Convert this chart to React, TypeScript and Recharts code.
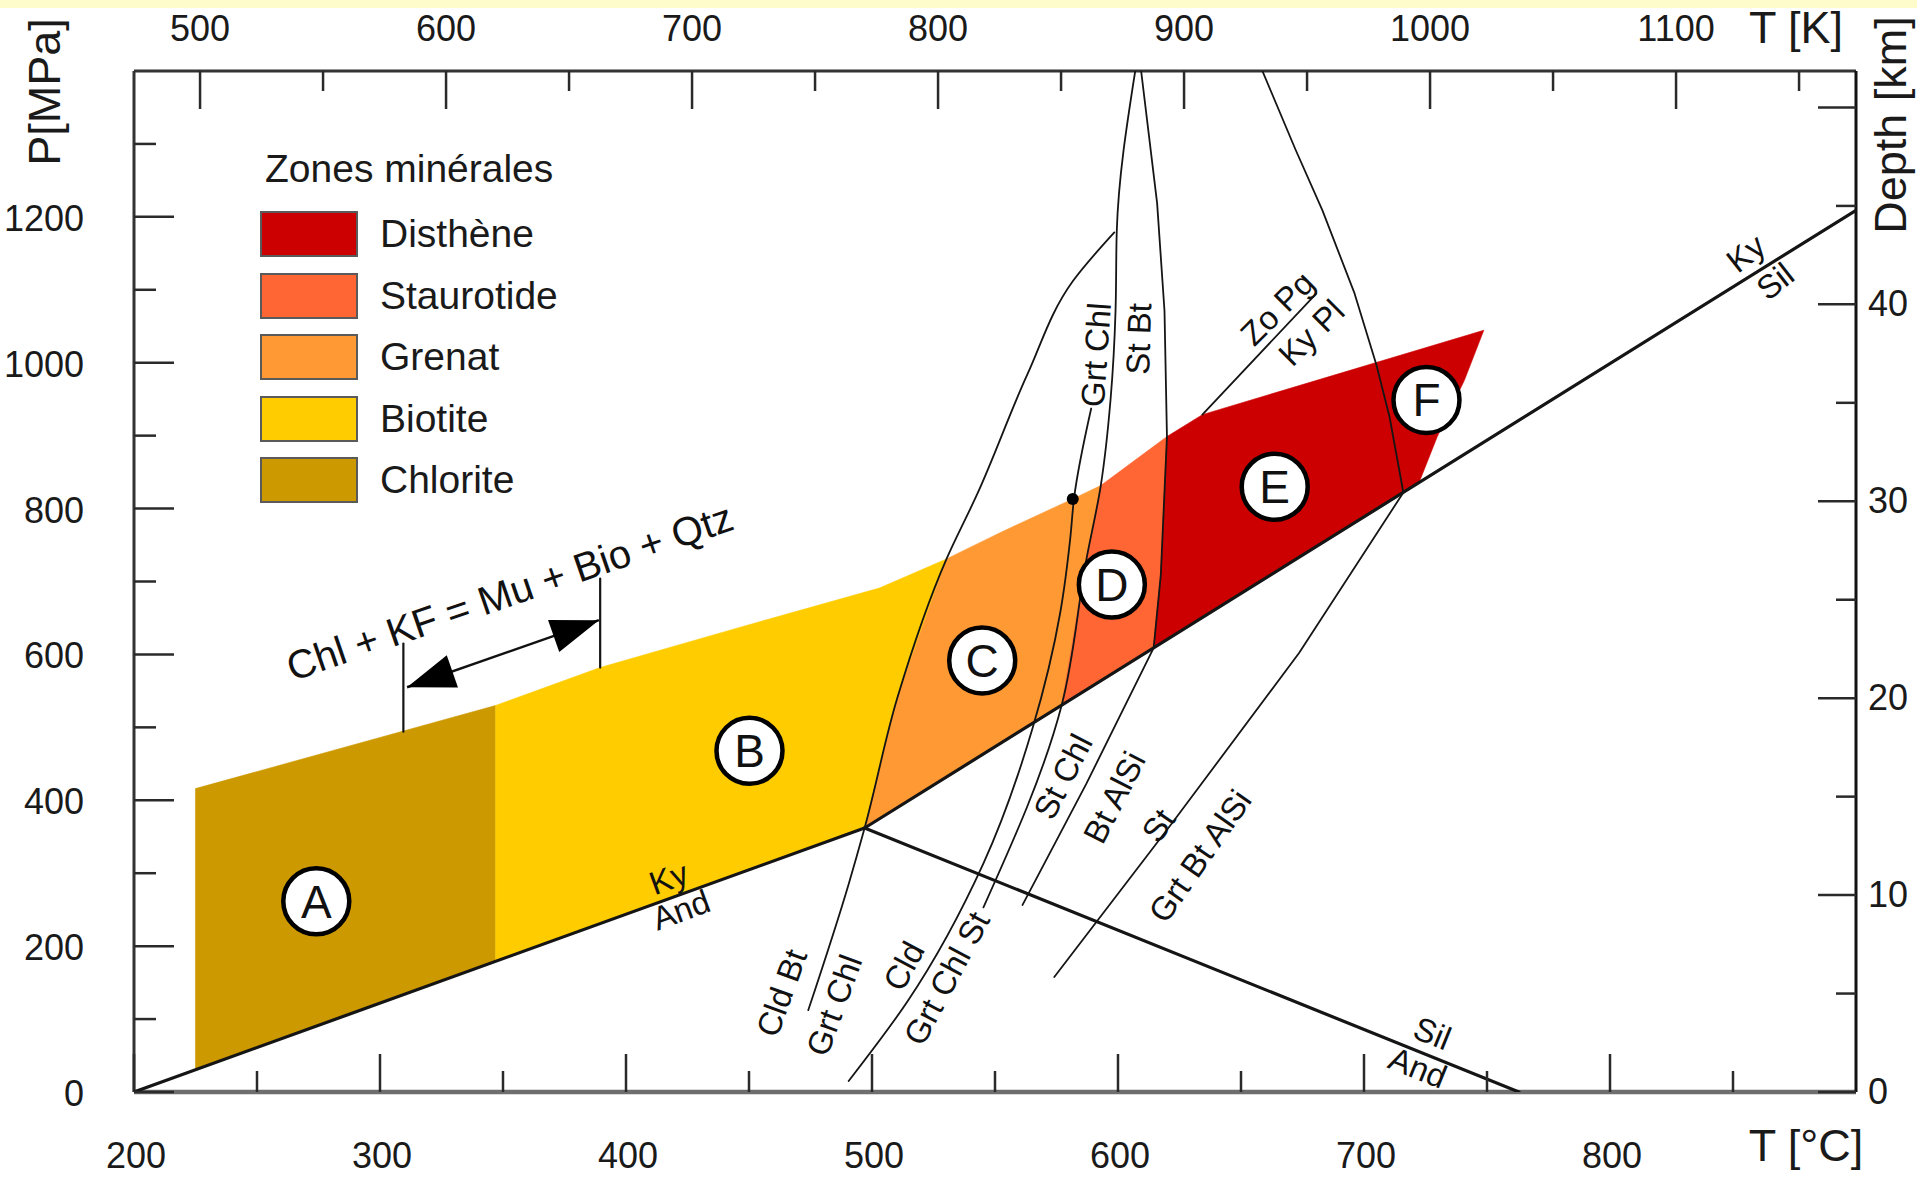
import React from 'react';
import { ScatterChart, Scatter, XAxis, YAxis, Legend, Curve } from 'recharts';

const FONT = '"Liberation Sans", Arial, Helvetica, sans-serif';

// ---------- axes ----------
const celsiusTicks = [200, 250, 300, 350, 400, 450, 500, 550, 600, 650, 700, 750, 800, 850];
const celsiusLabels = [200, 300, 400, 500, 600, 700, 800];
const kelvinTicks = [500, 550, 600, 650, 700, 750, 800, 850, 900, 950, 1000, 1050, 1100, 1150];
const kelvinLabels = [500, 600, 700, 800, 900, 1000, 1100];
const pressureTicks = [0, 100, 200, 300, 400, 500, 600, 700, 800, 900, 1000, 1100, 1200, 1300];
const pressureLabels = [0, 200, 400, 600, 800, 1000, 1200];
const depthTicks = [0, 5, 10, 15, 20, 25, 30, 35, 40, 45, 50];
const depthLabels = [0, 10, 20, 30, 40];
const MPA_PER_KM = 27;
const T_MIN = 200, T_MAX = 900, P_MAX = 1400;

// ---------- legend ----------
const zoneNames = ['Disthène', 'Staurotide', 'Grenat', 'Biotite', 'Chlorite'];
const zoneColors = ['#CC0000', '#FF6633', '#FF9933', '#FFCC00', '#CC9900'];

// ---------- zones [T °C, P MPa] ----------
const chloriteZone = [[225, 31], [225, 416], [347, 530], [347, 179]];
const biotiteZone = [[347, 179], [347, 530], [389.5, 582], [443, 634], [503, 691], [530.3, 731], [510.4, 541.5], [497, 362]];
const grenatZone = [[497, 362], [510.4, 541.5], [530.3, 731], [552.7, 768], [581.6, 813.2], [593, 831.6], [587.1, 729.3], [577.1, 530.4]];
const staurotideZone = [[577.1, 530.4], [587.1, 729.3], [593, 831.6], [619.9, 898.7], [617.4, 709.2], [614.5, 609]];
const distheneZone = [[614.5, 609], [617.4, 709.2], [619.9, 898.7], [634.3, 928.8], [748.7, 1044.5], [740.8, 975.8], [729.8, 898.7], [722.4, 835.8]];

// ---------- reaction lines ----------
const kyAndLine = [[200, 0], [497, 362]];
const kySilLine = [[497, 362], [900, 1209]];
const andSilLine = [[497, 362], [763, 0]];
const cldBtLine = [[474.1, 112.3], [490.5, 285], [497, 362], [510.4, 541.5], [530.3, 731], [542.8, 820], [563.2, 984.2], [581.6, 1111.6], [598.5, 1178.7]];
const cldGrtLine = [[490.5, 15.1], [514.4, 124.1], [545.3, 313.5], [565.2, 498], [576.6, 658.9], [580.6, 759.5], [582.1, 813.2], [589.1, 937.2]];
const grtChlStBtLine = [[545.3, 253.2], [577.1, 530.4], [587.1, 729.3], [593, 831.6], [597, 950.6], [599, 1071.3], [599.5, 1180.3], [607, 1400]];
const stChlBtAlSiLine = [[561.2, 256.5], [587.1, 422.5], [614.5, 609], [617.4, 709.2], [619.9, 898.7], [618.9, 1071.3], [615.9, 1218.9], [609.4, 1400]];
const stGrtBtAlSiLine = [[574.1, 157.6], [622.4, 370.5], [673.6, 601.9], [716, 822], [710.4, 925.5], [705, 997.6], [696, 1096.5], [683.1, 1208.8], [672.1, 1292.7], [658.7, 1400]];
const zoPgLine = [[634.3, 928.8], [680.6, 1094.8]];
const chlKfLeft = [[309.5, 494], [309.5, 615]];
const chlKfRight = [[389.5, 582], [389.5, 704]];
const chlKfArrow = [[311, 555], [389, 647]];
const triplePointDot = [[581.6, 813.2]];

// ---------- annotations ----------
const zoneMarkers = [
  { x: 274.1, y: 261.6, letter: 'A' },
  { x: 450.2, y: 467.8, letter: 'B' },
  { x: 544.8, y: 591.8, letter: 'C' },
  { x: 597.5, y: 695.8, letter: 'D' },
  { x: 663.7, y: 829.9, letter: 'E' },
  { x: 725.4, y: 949, letter: 'F' },
];
const lineLabels = [
  { x: 417.4, y: 293.4, text: 'Ky', angle: -20 },
  { x: 422.4, y: 249.8, text: 'And', angle: -20 },
  { x: 855.2, y: 1150.1, text: 'Ky', angle: -38 },
  { x: 867.1, y: 1111.6, text: 'Sil', angle: -38 },
  { x: 727.8, y: 80.5, text: 'Sil', angle: 22 },
  { x: 721.9, y: 33.5, text: 'And', angle: 22 },
  { x: 463.2, y: 135.8, text: 'Cld Bt', angle: -70 },
  { x: 484.6, y: 119, text: 'Grt Chl', angle: -70 },
  { x: 512.9, y: 172.7, text: 'Cld', angle: -62 },
  { x: 530.3, y: 155.9, text: 'Grt Chl St', angle: -62 },
  { x: 577.6, y: 432.6, text: 'St Chl', angle: -63 },
  { x: 598.5, y: 404, text: 'Bt AlSi', angle: -63 },
  { x: 616.4, y: 365.5, text: 'St', angle: -55 },
  { x: 633.3, y: 323.6, text: 'Grt Bt AlSi', angle: -55 },
  { x: 591, y: 1011, text: 'Grt Chl', angle: -86 },
  { x: 608.4, y: 1032.8, text: 'St Bt', angle: -88 },
  { x: 664.7, y: 1074.7, text: 'Zo Pg', angle: -45 },
  { x: 678.6, y: 1041.2, text: 'Ky Pl', angle: -45 },
];
const reactionLabels = [{ x: 352.7, y: 685.7, text: 'Chl + KF = Mu + Bio + Qtz', angle: -19 }];

// ---------- helpers ----------
const pts = (arr: number[][]) => arr.map(([x, y]) => ({ x, y }));
const Hidden = () => <g />;

const fillPath = (fill: string) => (p: any) => {
  const ps = (p.points || []).filter((q: any) => q.x != null && q.y != null);
  if (!ps.length) return <g />;
  const d = ps.map((q: any, i: number) => `${i ? 'L' : 'M'}${q.x},${q.y}`).join(' ') + ' Z';
  return <path d={d} fill={fill} stroke={fill} strokeWidth={0.6} />;
};

const strokePath = (stroke: string, w: number, type: any = 'linear') => (p: any) => (
  <Curve points={p.points} type={type} stroke={stroke} strokeWidth={w} fill="none" strokeLinejoin="round" strokeLinecap="round" />
);

const arrowPath = (p: any) => {
  const ps = p.points || [];
  if (ps.length < 2) return <g />;
  const a = ps[0], b = ps[1];
  const dx = b.x - a.x, dy = b.y - a.y, L = Math.hypot(dx, dy) || 1;
  const ux = dx / L, uy = dy / L;
  const head = (tx: number, ty: number, dir: number) => {
    const bx = tx - dir * ux * 48, by = ty - dir * uy * 48;
    return `M${tx},${ty} L${bx - uy * 17},${by + ux * 17} L${bx + uy * 17},${by - ux * 17} Z`;
  };
  return (
    <g>
      <line x1={a.x} y1={a.y} x2={b.x} y2={b.y} stroke="#111" strokeWidth={2.5} />
      <path d={head(a.x, a.y, -1)} fill="#000" />
      <path d={head(b.x, b.y, 1)} fill="#000" />
    </g>
  );
};

const MarkerShape = (p: any) => (
  <g>
    <circle cx={p.cx} cy={p.cy} r={33} fill="#fff" stroke="#000" strokeWidth={4.5} />
    <text x={p.cx} y={p.cy} dy="0.36em" textAnchor="middle" fontSize={46} fontFamily={FONT} fill="#111">
      {p.payload.letter}
    </text>
  </g>
);

const DotShape = (p: any) => <circle cx={p.cx} cy={p.cy} r={6} fill="#000" />;

const makeTextShape = (size: number) => (p: any) => (
  <text
    x={p.cx}
    y={p.cy}
    transform={`rotate(${p.payload.angle} ${p.cx} ${p.cy})`}
    textAnchor="middle"
    dominantBaseline="central"
    fontSize={size}
    fontFamily={FONT}
    fill="#111"
  >
    {p.payload.text}
  </text>
);
const LineText = makeTextShape(33);
const ReactionText = makeTextShape(40);

// ---------- ticks ----------
const TICK_COLOR = '#2a2a2a';
const LABEL_SIZE = 36;

const BottomTick = (p: any) => {
  const v = p.payload.value;
  const major = celsiusLabels.includes(v);
  return (
    <g>
      <line x1={p.x} y1={p.y} x2={p.x} y2={p.y - (major ? 38 : 21)} stroke={TICK_COLOR} strokeWidth={2.5} />
      {major && (
        <text x={p.x + 2} y={p.y + 76} textAnchor="middle" fontSize={LABEL_SIZE} fontFamily={FONT} fill="#1a1a1a">{v}</text>
      )}
    </g>
  );
};
const TopTick = (p: any) => {
  const v = p.payload.value;
  const major = kelvinLabels.includes(v);
  return (
    <g>
      <line x1={p.x} y1={p.y} x2={p.x} y2={p.y + (major ? 38 : 20)} stroke={TICK_COLOR} strokeWidth={2.5} />
      {major && (
        <text x={p.x} y={p.y - 30} textAnchor="middle" fontSize={LABEL_SIZE} fontFamily={FONT} fill="#1a1a1a">{v}</text>
      )}
    </g>
  );
};
const LeftTick = (p: any) => {
  const v = p.payload.value;
  const major = pressureLabels.includes(v);
  return (
    <g>
      <line x1={p.x} y1={p.y} x2={p.x + (major ? 40 : 22)} y2={p.y} stroke={TICK_COLOR} strokeWidth={2.5} />
      {major && (
        <text x={p.x - 50} y={p.y + 14} textAnchor="end" fontSize={LABEL_SIZE} fontFamily={FONT} fill="#1a1a1a">{v}</text>
      )}
    </g>
  );
};
const RightTick = (p: any) => {
  const v = p.payload.value;
  const major = depthLabels.includes(v) || v === 50;
  return (
    <g>
      <line x1={p.x} y1={p.y} x2={p.x - (major ? 38 : 20)} y2={p.y} stroke={TICK_COLOR} strokeWidth={2.5} />
      {depthLabels.includes(v) && (
        <text x={p.x + 12} y={p.y + 12} textAnchor="start" fontSize={LABEL_SIZE} fontFamily={FONT} fill="#1a1a1a">{v}</text>
      )}
    </g>
  );
};

const titleStyle = { fontSize: 45, fontFamily: FONT, fill: '#1a1a1a' } as const;

const LeftTitle = (p: any) => {
  const vb = p.viewBox || { x: 0, y: 71 };
  const cx = vb.x + 44, cy = vb.y + 21;
  return <text x={cx} y={cy} transform={`rotate(-90 ${cx} ${cy})`} textAnchor="middle" dominantBaseline="central" {...titleStyle}>P[MPa]</text>;
};
const RightTitle = (p: any) => {
  const vb = p.viewBox || { x: 1856, y: 71 };
  const cx = vb.x + 34, cy = vb.y + 54;
  return <text x={cx} y={cy} transform={`rotate(-90 ${cx} ${cy})`} textAnchor="middle" dominantBaseline="central" {...titleStyle}>Depth [km]</text>;
};
const TopTitle = (p: any) => {
  const vb = p.viewBox || { x: 134, y: 0, width: 1722 };
  return <text x={vb.x + vb.width - 60} y={vb.y + 43} textAnchor="middle" {...titleStyle}>T [K]</text>;
};
const BottomTitle = (p: any) => {
  const vb = p.viewBox || { x: 134, y: 1092, width: 1722 };
  return <text x={vb.x + vb.width - 50} y={vb.y + 69} textAnchor="middle" {...titleStyle}>T [°C]</text>;
};

const LegendBox = () => (
  <div style={{ position: 'relative', width: 340, height: 380, fontFamily: FONT, color: '#1a1a1a' }}>
    <div style={{ position: 'absolute', left: 7, top: 9, fontSize: 39, lineHeight: '39px', whiteSpace: 'nowrap' }}>Zones minérales</div>
    {zoneNames.map((n, i) => (
      <React.Fragment key={n}>
        <div style={{ position: 'absolute', left: 2, top: 71 + i * 61.5, width: 94, height: 42, background: zoneColors[i], border: '2px solid #5a5a5a' }} />
        <div style={{ position: 'absolute', left: 122, top: 71 + i * 61.5 + 3, fontSize: 39, lineHeight: '39px', whiteSpace: 'nowrap' }}>{n}</div>
      </React.Fragment>
    ))}
  </div>
);

const zonePolys = [
  { key: 'chl', points: chloriteZone, color: zoneColors[4] },
  { key: 'bio', points: biotiteZone, color: zoneColors[3] },
  { key: 'grt', points: grenatZone, color: zoneColors[2] },
  { key: 'st', points: staurotideZone, color: zoneColors[1] },
  { key: 'ky', points: distheneZone, color: zoneColors[0] },
];

const reactionLines = [
  { key: 'l1', points: cldBtLine, w: 1.8, type: 'monotoneY' },
  { key: 'l2', points: cldGrtLine, w: 1.8, type: 'monotoneY' },
  { key: 'l3', points: grtChlStBtLine, w: 1.8, type: 'monotoneY' },
  { key: 'l4', points: stChlBtAlSiLine, w: 1.8, type: 'linear' },
  { key: 'l5', points: stGrtBtAlSiLine, w: 1.8, type: 'linear' },
  { key: 'zo', points: zoPgLine, w: 1.8, type: 'linear' },
  { key: 'kl', points: chlKfLeft, w: 2.2, type: 'linear' },
  { key: 'kr', points: chlKfRight, w: 2.2, type: 'linear' },
  { key: 'kyand', points: kyAndLine, w: 3.2, type: 'linear' },
  { key: 'kysil', points: kySilLine, w: 3.2, type: 'linear' },
  { key: 'andsil', points: andSilLine, w: 3.2, type: 'linear' },
];

export default function App() {
  return (
    <div style={{ position: 'absolute', left: 0, top: 0, width: 1917, height: 1178, background: '#fff', overflow: 'hidden' }}>
      <div style={{ position: 'absolute', left: 0, top: 0, width: 1917, height: 8, background: '#FFFCCC' }} />
      <ScatterChart width={1917} height={1178} margin={{ top: 0, right: 0, bottom: 0, left: 0 }}>
        <XAxis
          xAxisId="c" type="number" dataKey="x" orientation="bottom" height={86}
          domain={[T_MIN, T_MAX]} allowDataOverflow ticks={celsiusTicks} interval={0}
          tickSize={0} tickMargin={0} tickLine={false}
          axisLine={{ stroke: '#6e6e6e', strokeWidth: 4.5 }}
          tick={<BottomTick />} label={BottomTitle}
        />
        <XAxis
          xAxisId="k" type="number" dataKey="x" orientation="top" height={71}
          domain={[T_MIN + 273.15, T_MAX + 273.15]} allowDataOverflow ticks={kelvinTicks} interval={0}
          tickSize={0} tickMargin={0} tickLine={false}
          axisLine={{ stroke: '#333', strokeWidth: 3 }}
          tick={<TopTick />} label={TopTitle}
        />
        <YAxis
          yAxisId="p" type="number" dataKey="y" orientation="left" width={134}
          domain={[0, P_MAX]} allowDataOverflow ticks={pressureTicks} interval={0}
          tickSize={0} tickMargin={0} tickLine={false}
          axisLine={{ stroke: '#333', strokeWidth: 3 }}
          tick={<LeftTick />} label={LeftTitle}
        />
        <YAxis
          yAxisId="d" type="number" dataKey="y" orientation="right" width={61}
          domain={[0, P_MAX / MPA_PER_KM]} allowDataOverflow ticks={depthTicks} interval={0}
          tickSize={0} tickMargin={0} tickLine={false}
          axisLine={{ stroke: '#111', strokeWidth: 3 }}
          tick={<RightTick />} label={RightTitle}
        />
        <Legend
          layout="vertical" align="center" verticalAlign="middle"
          wrapperStyle={{ left: 258, top: 140, width: 340, height: 380 }}
          content={LegendBox}
        />
        {zonePolys.map((z) => (
          <Scatter key={z.key} xAxisId="c" yAxisId="p" data={pts(z.points)} shape={Hidden}
            line={fillPath(z.color)} lineType="joint" isAnimationActive={false} legendType="none" />
        ))}
        {reactionLines.map((l) => (
          <Scatter key={l.key} xAxisId="c" yAxisId="p" data={pts(l.points)} shape={Hidden}
            line={strokePath('#151515', l.w, l.type)} lineType="joint" isAnimationActive={false} legendType="none" />
        ))}
        <Scatter xAxisId="c" yAxisId="p" data={pts(chlKfArrow)} shape={Hidden} line={arrowPath}
          lineType="joint" isAnimationActive={false} legendType="none" />
        <Scatter xAxisId="c" yAxisId="p" data={pts(triplePointDot)} shape={DotShape} isAnimationActive={false} legendType="none" />
        <Scatter xAxisId="c" yAxisId="p" data={lineLabels} shape={LineText} isAnimationActive={false} legendType="none" />
        <Scatter xAxisId="c" yAxisId="p" data={reactionLabels} shape={ReactionText} isAnimationActive={false} legendType="none" />
        <Scatter xAxisId="c" yAxisId="p" data={zoneMarkers} shape={MarkerShape} isAnimationActive={false} legendType="none" />
      </ScatterChart>
    </div>
  );
}
